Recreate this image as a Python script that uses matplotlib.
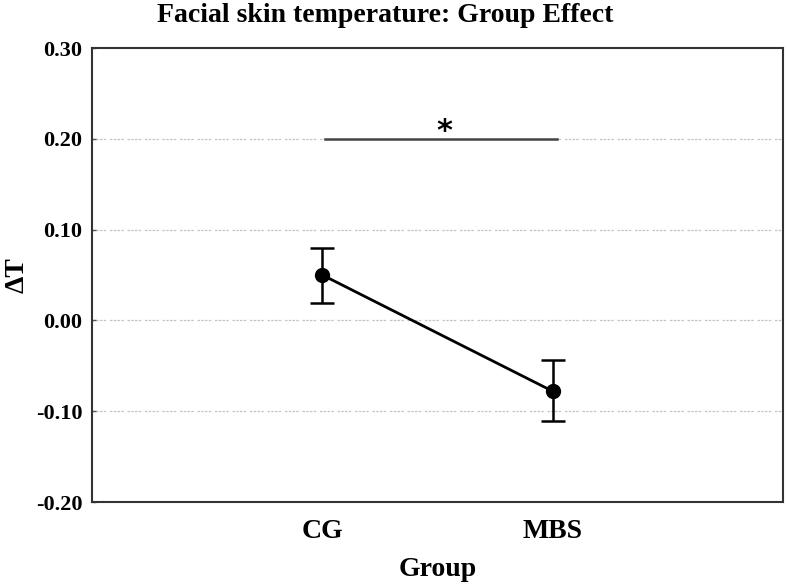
import matplotlib
matplotlib.use("Agg")
import matplotlib.pyplot as plt

# Data
groups = ["CG", "MBS"]
means = [0.050, -0.078]
err_low = [0.031, 0.033]
err_high = [0.030, 0.034]
y_ticks = [-0.20, -0.10, 0.00, 0.10, 0.20, 0.30]
sig_level = 0.20

plt.rcParams["font.family"] = ["Liberation Serif", "DejaVu Serif"]
plt.rcParams["font.weight"] = "bold"

fig = plt.figure(figsize=(7.87, 5.85), dpi=100)
ax = fig.add_axes([92 / 787, 1 - 502 / 585, 691 / 787, 454 / 585])

x = [1, 2]

#
# -------------------------------------------------------------
# Grid
# -------------------------------------------------------------
#

for yv in y_ticks[1:-1]:
    ax.axhline(yv, color="#c4c4c4", linewidth=0.9,
               linestyle=(0, (2, 1, 2, 1, 2, 1, 2, 3)), zorder=0)

#
# -------------------------------------------------------------
# Means with error bars
# -------------------------------------------------------------
#

ax.errorbar(
    x,
    means,
    yerr=[err_low, err_high],
    color="black",
    linewidth=2.0,
    elinewidth=1.8,
    capsize=8.5,
    capthick=1.8,
    marker="o",
    markersize=10,
    zorder=3
)

#
# -------------------------------------------------------------
# Significance bar
# -------------------------------------------------------------
#

ax.plot([1.01, 2.02], [sig_level, sig_level], color="#444444",
        linewidth=1.8, zorder=2)
ax.text(1.53, sig_level - 0.008, "*", fontsize=22, fontweight="bold",
        ha="center", va="bottom", family=["DejaVu Sans"])

#
# -------------------------------------------------------------
# Axes formatting
# -------------------------------------------------------------
#

ax.set_xlim(0, 3)
ax.set_ylim(-0.2, 0.3)
ax.set_xticks(x)
ax.set_xticklabels(groups, fontsize=20, fontweight="bold")
ax.set_yticks(y_ticks)
ax.set_yticklabels([f"{v:.2f}" for v in y_ticks], fontsize=16,
                   fontweight="bold")

ax.tick_params(axis="x", length=0, pad=12)
ax.tick_params(axis="y", direction="in", length=3, width=1, pad=7,
               color="#555555")

for spine in ax.spines.values():
    spine.set_linewidth(1.5)
    spine.set_color("#333333")

ax.set_xlabel("Group", fontsize=20, fontweight="bold")
ax.xaxis.set_label_coords(0.5, (502 - 570) / 454, transform=ax.transAxes)
ax.xaxis.label.set_va("center")
ax.set_ylabel("ΔT", fontsize=20, fontweight="bold")
ax.yaxis.set_label_coords((17 - 92) / 691, (502 - 275) / 454,
                          transform=ax.transAxes)
ax.yaxis.label.set_va("center")

fig.text(385 / 787, 1 - 15 / 585, "Facial skin temperature: Group Effect",
         fontsize=20, fontweight="bold", ha="center", va="center")

fig.savefig("out.png", dpi=100)
